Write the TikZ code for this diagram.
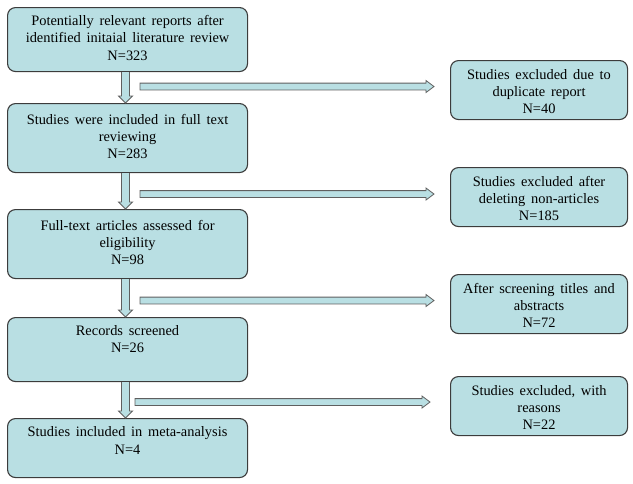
\documentclass[tikz,border=0pt]{standalone}
\usepackage{fontspec}
\setmainfont{Liberation Serif}
\usetikzlibrary{calc}
\definecolor{boxfill}{RGB}{185,223,227}
\definecolor{bord}{RGB}{60,60,60}
\definecolor{arrbord}{RGB}{95,95,95}
\newcommand\fs{\fontsize{14.4}{17.2}\selectfont\spaceskip=0.4em plus 0.1em\relax}
\newcommand\fstrut{\rule{0pt}{18pt}}
\newcommand\varr[2]{\draw[barrow] let \p1=(#1.south), \p2=(#2.north) in
  ({\x1-6pt},\y1) -- ({\x1-6pt},{\y2+7pt}) -- ({\x1-9pt},{\y2+7pt}) -- ({\x1-2pt},\y2)
  -- ({\x1+5pt},{\y2+7pt}) -- ({\x1+2pt},{\y2+7pt}) -- ({\x1+2pt},\y1);}
\newcommand\harr[3]{\draw[barrow] let \p1=(#1), \p2=(#2.west) in
  (\x1,{\y1+3.4pt}) -- ({\x2-#3pt-8pt},{\y1+3.4pt}) -- ({\x2-#3pt-8pt},{\y1+6pt}) -- ({\x2-#3pt},\y1)
  -- ({\x2-#3pt-8pt},{\y1-6pt}) -- ({\x2-#3pt-8pt},{\y1-3.4pt}) -- (\x1,{\y1-3.4pt}) -- cycle;}
\begin{document}
\begin{tikzpicture}[x=1pt,y=-1pt,
  box/.style={draw=bord, fill=boxfill, rounded corners=8pt, line width=1.1pt, inner sep=0pt,
    font=\fs, align=center, anchor=north west},
  lbox/.style={box, minimum width=240pt},
  rbox/.style={box, minimum width=177pt, minimum height=59pt},
  barrow/.style={draw=arrbord, fill=boxfill, line width=0.8pt, line join=miter}]
\useasboundingbox (0,0) rectangle (633,483);
\node[lbox, minimum height=64pt] (L1) at (7,7)
  {\strut Potentially relevant reports after\\\strut identified initaial literature review\\\strut N=323};
\node[lbox, minimum height=69pt] (L2) at (7,103)
  {\strut Studies were included in full text\\\strut reviewing\\\strut N=283};
\node[lbox, minimum height=69pt] (L3) at (7,209)
  {\strut Full-text articles assessed for\\\strut eligibility\\\strut N=98};
\node[lbox, minimum height=64pt] (L4) at (7,317)
  {\strut Records screened\\\strut N=26\\\strut};
\node[lbox, minimum height=59pt] (L5) at (7,418)
  {\strut Studies included in meta-analysis\\\strut N=4\\\rule{0pt}{0pt}};
\node[rbox] (R1) at (450,60)
  {\fstrut Studies excluded due to\\\strut duplicate report\\\strut N=40};
\node[rbox] (R2) at (450,167)
  {\fstrut Studies excluded after\\\strut deleting non-articles\\\strut N=185};
\node[rbox] (R3) at (450,274)
  {\fstrut After screening titles and\\\strut abstracts\\\strut N=72};
\node[rbox] (R4) at (450,376)
  {\fstrut Studies excluded, with\\\strut reasons\\\strut N=22};
\coordinate (s1) at (140,86.5);
\coordinate (s2) at (140,194);
\coordinate (s3) at (140,300.5);
\coordinate (s4) at (135,402);
\varr{L1}{L2}
\varr{L2}{L3}
\varr{L3}{L4}
\varr{L4}{L5}
\harr{s1}{R1}{16}
\harr{s2}{R2}{16}
\harr{s3}{R3}{16}
\harr{s4}{R4}{20}
\end{tikzpicture}
\end{document}
